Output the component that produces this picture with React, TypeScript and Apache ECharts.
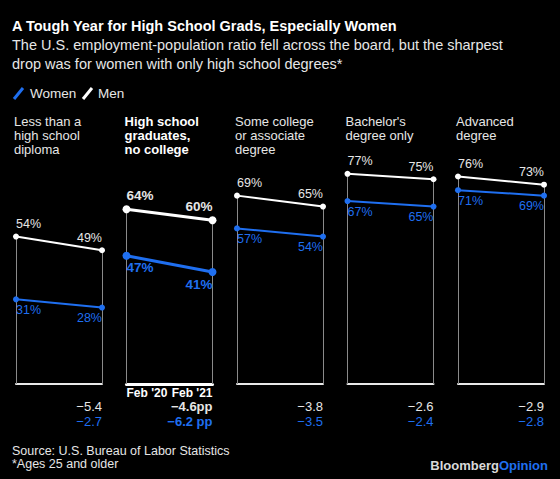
import React, { useEffect, useRef } from "react";
import * as echarts from "echarts";

const categories = [
  "Less than a\nhigh school\ndiploma",
  "High school\ngraduates,\nno college",
  "Some college\nor associate\ndegree",
  "Bachelor's\ndegree only",
  "Advanced\ndegree",
];
const periods = ["Feb '20", "Feb '21"];
const menFeb20 = [54, 64, 69, 77, 76];
const menFeb21 = [49, 60, 65, 75, 73];
const womenFeb20 = [31, 47, 57, 67, 71];
const womenFeb21 = [28, 41, 54, 65, 69];
const menChange = ["\u22125.4", "\u22124.6pp", "\u22123.8", "\u22122.6", "\u22122.9"];
const womenChange = ["\u22122.7", "\u22126.2 pp", "\u22123.5", "\u22122.4", "\u22122.8"];
const highlightIndex = 1;

const FONT = "'Liberation Sans', Arial, Helvetica, sans-serif";
const BLUE = "#1f6ff0";
const WHITE = "#ffffff";
const LABEL_WHITE = "#e6e6e6";

export default function App() {
  const ref = useRef<HTMLDivElement>(null);
  useEffect(() => {
    if (!ref.current) return;
    const chart = echarts.init(ref.current, null, { renderer: "svg" });
    const panelLeft = (i: number) => 16 + 110.5 * i;
    const panelW = 86;
    const gridTop = 111;
    const gridH = 273;

    const grids: any[] = [];
    const xAxes: any[] = [];
    const yAxes: any[] = [];
    const series: any[] = [];
    const graphics: any[] = [];

    categories.forEach((cat, i) => {
      const hl = i === highlightIndex;
      grids.push({ left: panelLeft(i), width: panelW, top: gridTop, height: gridH });
      xAxes.push({
        type: "category",
        gridIndex: i,
        data: periods,
        boundaryGap: false,
        axisLine: { show: true, lineStyle: { color: hl ? WHITE : "#e8e8e8", width: hl ? 3 : 2 } },
        axisTick: { show: false },
        axisLabel: { show: false },
        splitLine: { show: false },
      });
      yAxes.push({ type: "value", gridIndex: i, min: 0, max: 100, show: false });

      const lblSize = hl ? 13.5 : 12.5;
      const lblWeight = hl ? "bold" : "normal";
      const mkLabel = (align: string, pos: string, color: string) => ({
        show: true,
        position: pos,
        align,
        distance: pos === "top" ? 3 : 1,
        color,
        fontFamily: FONT,
        fontSize: lblSize,
        fontWeight: lblWeight,
        formatter: (p: any) => p.value + "%",
      });

      series.push({
        type: "line",
        name: "Men",
        xAxisIndex: i,
        yAxisIndex: i,
        z: 3,
        symbol: "circle",
        symbolSize: hl ? 8 : 6,
        lineStyle: { color: WHITE, width: hl ? 3 : 2 },
        itemStyle: { color: WHITE },
        data: [
          { value: menFeb20[i], label: mkLabel("left", "top", LABEL_WHITE) },
          { value: menFeb21[i], label: mkLabel("right", "top", LABEL_WHITE) },
        ],
        markLine: {
          silent: true,
          symbol: ["none", "none"],
          label: { show: false },
          lineStyle: { color: "#8a8a8a", width: 1, type: "solid" },
          z: 1,
          data: [
            [{ coord: [periods[0], 0] }, { coord: [periods[0], menFeb20[i]] }],
            [{ coord: [periods[1], 0] }, { coord: [periods[1], menFeb21[i]] }],
          ],
        },
      });
      series.push({
        type: "line",
        name: "Women",
        xAxisIndex: i,
        yAxisIndex: i,
        z: 4,
        symbol: "circle",
        symbolSize: hl ? 8 : 6,
        lineStyle: { color: BLUE, width: hl ? 3 : 2 },
        itemStyle: { color: BLUE },
        data: [
          { value: womenFeb20[i], label: mkLabel("left", "bottom", BLUE) },
          { value: womenFeb21[i], label: mkLabel("right", "bottom", BLUE) },
        ],
      });

      // Category title
      graphics.push({
        type: "text",
        x: panelLeft(i) - 2,
        y: 114,
        style: {
          text: cat,
          fill: hl ? WHITE : LABEL_WHITE,
          fontFamily: FONT,
          fontSize: 13,
          fontWeight: hl ? "bold" : "normal",
          lineHeight: 14,
          verticalAlign: "top",
          align: "left",
        },
      });
      // Change labels
      const right = panelLeft(i) + panelW;
      graphics.push({
        type: "text",
        x: right,
        y: 406,
        style: {
          text: menChange[i],
          fill: LABEL_WHITE,
          fontFamily: FONT,
          fontSize: 13,
          fontWeight: hl ? "bold" : "normal",
          align: "right",
          verticalAlign: "middle",
        },
      });
      graphics.push({
        type: "text",
        x: right,
        y: 421,
        style: {
          text: womenChange[i],
          fill: BLUE,
          fontFamily: FONT,
          fontSize: 13,
          fontWeight: hl ? "bold" : "normal",
          align: "right",
          verticalAlign: "middle",
        },
      });
      if (hl) {
        graphics.push({
          type: "text",
          x: panelLeft(i),
          y: 393,
          style: {
            text: periods[0],
            fill: WHITE,
            fontFamily: FONT,
            fontSize: 12,
            fontWeight: "bold",
            align: "left",
            verticalAlign: "middle",
          },
        });
        graphics.push({
          type: "text",
          x: right,
          y: 393,
          style: {
            text: periods[1],
            fill: WHITE,
            fontFamily: FONT,
            fontSize: 12,
            fontWeight: "bold",
            align: "right",
            verticalAlign: "middle",
          },
        });
      }
    });

    // Title, subtitle, legend, source, logo
    graphics.push(
      {
        type: "text",
        x: 12,
        y: 26,
        style: {
          text: "A Tough Year for High School Grads, Especially Women",
          fill: WHITE,
          fontFamily: FONT,
          fontSize: 14.5,
          fontWeight: "bold",
          verticalAlign: "middle",
        },
      },
      {
        type: "text",
        x: 12,
        y: 36,
        style: {
          text:
            "The U.S. employment-population ratio fell across the board, but the sharpest\ndrop was for women with only high school degrees*",
          fill: LABEL_WHITE,
          fontFamily: FONT,
          fontSize: 14.5,
          lineHeight: 18.5,
          verticalAlign: "top",
        },
      },
      { type: "line", shape: { x1: 14, y1: 99, x2: 23, y2: 88 }, style: { stroke: BLUE, lineWidth: 3 } },
      {
        type: "text",
        x: 30,
        y: 93.5,
        style: { text: "Women", fill: LABEL_WHITE, fontFamily: FONT, fontSize: 13.5, verticalAlign: "middle" },
      },
      { type: "line", shape: { x1: 83, y1: 99, x2: 92, y2: 88 }, style: { stroke: WHITE, lineWidth: 3 } },
      {
        type: "text",
        x: 98,
        y: 93.5,
        style: { text: "Men", fill: LABEL_WHITE, fontFamily: FONT, fontSize: 13.5, verticalAlign: "middle" },
      },
      {
        type: "text",
        x: 12,
        y: 444,
        style: {
          text: "Source: U.S. Bureau of Labor Statistics\n*Ages 25 and older",
          fill: LABEL_WHITE,
          fontFamily: FONT,
          fontSize: 12.5,
          lineHeight: 13.5,
          verticalAlign: "top",
        },
      },
      {
        type: "text",
        x: 548,
        y: 465,
        style: {
          text: "{a|Bloomberg}{b|Opinion}",
          align: "right",
          verticalAlign: "middle",
          rich: {
            a: { fill: "#d9d9d9", fontFamily: FONT, fontSize: 13, fontWeight: "bold" },
            b: { fill: BLUE, fontFamily: FONT, fontSize: 13, fontWeight: "bold" },
          },
        },
      }
    );

    chart.setOption({
      animation: false,
      backgroundColor: "#000000",
      grid: grids,
      xAxis: xAxes,
      yAxis: yAxes,
      series,
      graphic: graphics,
    });
    return () => chart.dispose();
  }, []);
  return (
    <div
      ref={ref}
      style={{ position: "fixed", left: 0, top: 0, width: 560, height: 479, background: "#000" }}
    />
  );
}
